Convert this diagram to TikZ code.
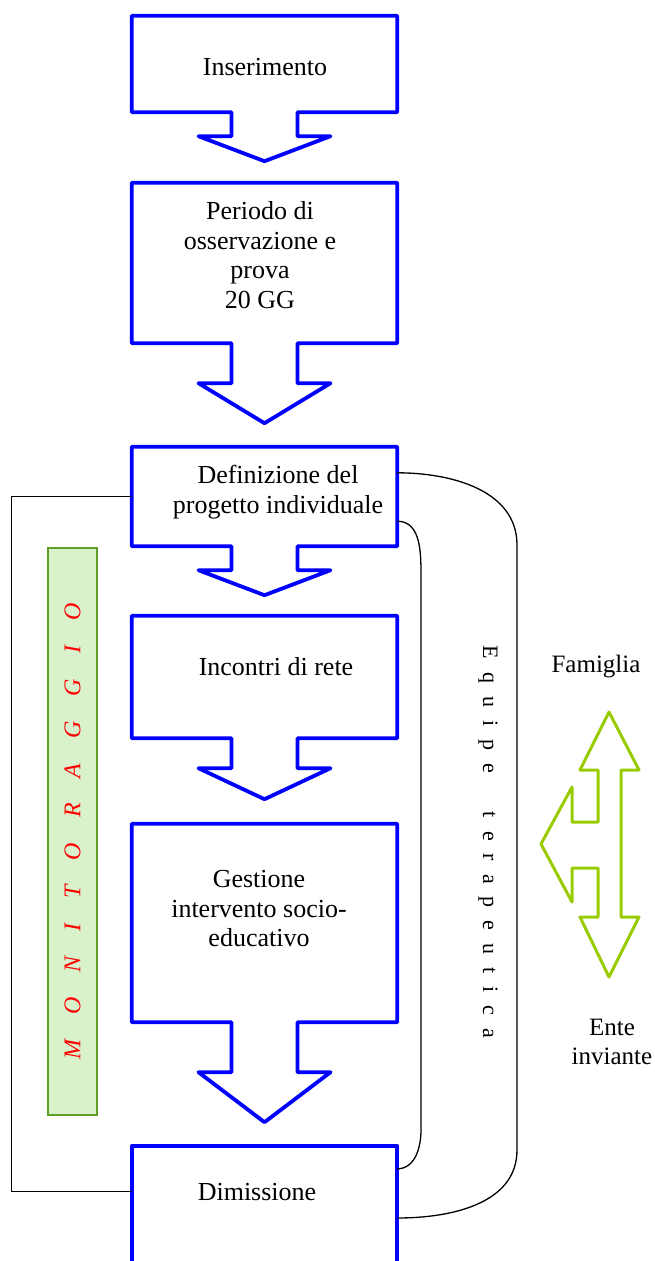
\documentclass[tikz,border=0pt]{standalone}
\usepackage{fontspec}
\setmainfont{Liberation Serif}
\usetikzlibrary{calc}
\definecolor{boxblue}{RGB}{0,0,255}
\definecolor{limegreen}{RGB}{153,204,0}
\definecolor{barfill}{RGB}{217,242,204}
\definecolor{barline}{RGB}{96,158,40}

\begin{document}
\begin{tikzpicture}[x=1pt, y=-1pt,
  every node/.style={font=\fontsize{26}{29.5}\selectfont},
  body/.style={inner sep=0pt, minimum width=265pt},
  callout/.style={draw=boxblue, line width=3.8pt, line join=round},
  txt/.style={align=center},
  conn/.style={draw=black, line width=1.3pt},
  twoway/.style={draw=limegreen, line width=3pt, line join=round}]
\useasboundingbox (0,0) rectangle (655,1261);
% box bodies, outlines drawn below
\node[body, minimum height=96pt] (ins) at (264.5,64) {};
\node[body, minimum height=160pt] (per) at (264.5,263) {};
\node[body, minimum height=99pt] (def) at (264.5,496.5) {};
\node[body, minimum height=122pt] (inc) at (264.5,677) {};
\node[body, minimum height=198pt] (ges) at (264.5,923) {};
\node[body, minimum height=144pt] (dim) at (264.5,1218) {};
\foreach \n/\s/\h in {ins/24/25, per/40/40, def/24/25, inc/30/31, ges/50/50}
  \draw[callout] (\n.north west) -- (\n.north east) -- (\n.south east) -- ($(\n.south)+(33,0)$) -- ++(0,\s) -- ++(33,0) -- ++(-66,\h) -- ++(-66,-\h) -- ++(33,0) -- ++(0,-\s) -- (\n.south west) -- cycle;
\draw[callout] (dim.south west) -- (dim.north west) -- (dim.north east) -- (dim.south east);
% texts
\node[txt] (ins-t) at (265,67) {Inserimento};
\node[txt] (per-t) at (260,255) {Periodo di\\osservazione e\\prova\\20 GG};
\node[txt] (def-t) at (278,492) {Definizione del\\progetto individuale};
\node[txt] (inc-t) at (276,666.5) {Incontri di rete};
\node[txt] (ges-t) at (259,909) {Gestione\\intervento socio-\\educativo};
\node[txt] (dim-t) at (257,1192.5) {Dimissione};
% monitoraggio
\draw[conn] (def.west) -- ++(-120,0) |- ($(dim.north west)+(0,46)$);
\node[rotate=90, draw=barline, fill=barfill, line width=1.8pt, minimum width=567pt, minimum height=49pt, inner sep=0pt, text=red,
  font={\fontsize{24}{28}\selectfont\itshape\spaceskip 25pt}] (monit) at (72.5,831.5) {M O N I T O R A G G I O};
% equipe
\draw[conn] ($(def.north east)+(0,26)$) to[out=0,in=90] (517,545) -- (517,1150) to[out=-90,in=0] (dim.east);
\draw[conn] ($(def.south east)+(0,-25)$) to[out=0,in=90] (421,580) -- (421,1130) to[out=-90,in=0] ($(dim.north east)+(0,23)$);
\node[rotate=-90, font={\fontsize{22}{26}\selectfont\spaceskip 13pt}] (equipe) at (488,842) {E q u i p e\hspace{26pt} t e r a p e u t i c a};
% famiglia / ente
\node (fam) at (596,667) {\fontsize{25}{29}\selectfont Famiglia};
\node[txt, font=\fontsize{25}{29}\selectfont] (ente) at (612,1042) {Ente\\inviante};
\draw[twoway] (609,712) -- (639,770) -- (621,770) -- (621,917) -- (639,917) -- (609,977) -- (580,917) -- (598,917) -- (598,868) -- (572,868) -- (572,902) -- (541,844) -- (572,787) -- (572,822) -- (598,822) -- (598,770) -- (580,770) -- cycle;
\end{tikzpicture}
\end{document}
